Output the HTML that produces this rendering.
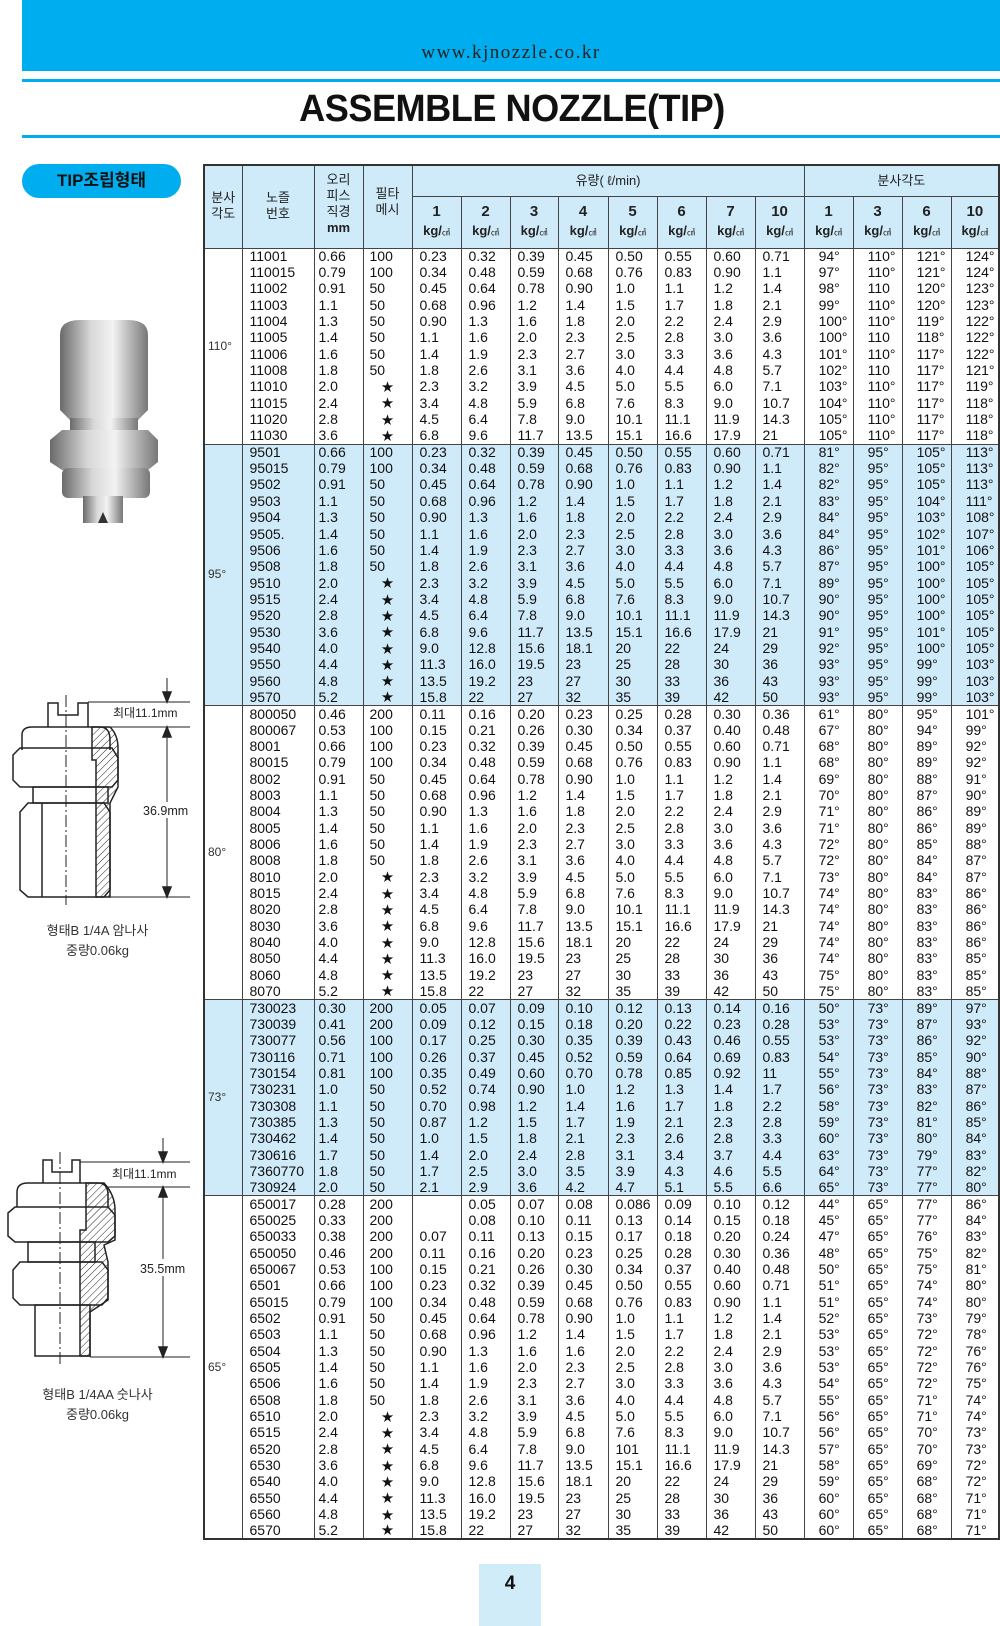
<!DOCTYPE html>
<html><head><meta charset="utf-8">
<style>
*{margin:0;padding:0;box-sizing:border-box}
html,body{width:1000px;height:1626px;background:#fff;overflow:hidden;position:relative;font-family:"Liberation Sans","Noto Sans CJK KR",sans-serif;color:#111}
.ban{position:absolute;left:22px;top:0;width:978px;height:71px;background:#00aeef}
.url{position:absolute;left:22px;width:978px;top:42px;text-align:center;font-family:"Liberation Serif",serif;font-size:19px;letter-spacing:1.5px;color:#222}
.ln{position:absolute;left:22px;width:978px;height:3px;background:#00aeef}
.title{position:absolute;left:0;width:1024px;top:88px;text-align:center;font-weight:bold;font-size:38px;letter-spacing:-0.5px;color:#111;transform:scaleX(0.95);transform-origin:512px 0}
.pill{position:absolute;left:22px;top:164px;width:159px;height:34px;border-radius:17px;background:#00aeef;font-weight:bold;font-size:17px;text-align:center;line-height:34px;color:#111}
table{position:absolute;left:203px;top:164px;width:795px;border-collapse:collapse;table-layout:fixed;font-size:14px}
table{border:2px solid #333}
td,th{border-left:1px solid #444;border-right:1px solid #444;padding:0;white-space:nowrap;overflow:hidden}
thead th{background:#cfeaf8;font-weight:normal;font-size:13px;line-height:16px;color:#222;border:1px solid #444;vertical-align:middle}
thead .n{font-size:15px;font-weight:bold;line-height:20px}
thead .k{font-size:13px;font-weight:bold;line-height:18px}
thead .k small{font-size:8px;font-weight:normal}
tbody tr{height:16.35px}
tbody td{line-height:15px;padding-left:7px;text-align:left;vertical-align:middle}
tbody tr:first-child td{border-top:1px solid #444}
tbody td:nth-last-child(-n+4){padding-left:14px}
tbody td:nth-last-child(14){padding-left:4px}
tbody td:nth-last-child(13){padding-left:6px}
tbody td.s{padding-left:0;text-align:center;font-size:12px;vertical-align:bottom}
tbody td.a{font-size:12px;padding-left:3px;text-align:left;color:#333}
tbody.b td{background:#cfeaf8}
.pg{position:absolute;left:479px;top:1564px;width:62px;height:62px;background:#d0ecf9;text-align:center;font-weight:bold;font-size:19px;padding-top:9px}
.cap{position:absolute;left:20px;width:155px;text-align:center;font-size:13px;color:#333;line-height:20px}
svg{position:absolute}
</style></head><body>
<div class="ban"></div>
<div class="url">www.kjnozzle.co.kr</div>
<div class="ln" style="top:79px"></div>
<div class="title">ASSEMBLE NOZZLE(TIP)</div>
<div class="ln" style="top:135px"></div>
<div class="pill">TIP조립형태</div>

<svg style="left:40px;top:310px" width="130" height="220" viewBox="40 310 130 220">
<defs><linearGradient id="m" x1="0" x2="1"><stop offset="0" stop-color="#6a6a6a"/><stop offset="0.35" stop-color="#d8d8d8"/><stop offset="0.6" stop-color="#f2f2f2"/><stop offset="1" stop-color="#777"/></linearGradient></defs>
<path d="M60 335 Q60 320 80 320 L128 320 Q148 320 148 335 L148 410 L138 420 L70 420 L60 410Z" fill="url(#m)"/>
<rect x="70" y="418" width="68" height="14" fill="url(#m)"/>
<path d="M50 440 L62 430 L148 430 L158 440 L158 462 L148 470 L62 470 L50 462Z" fill="url(#m)"/>
<rect x="62" y="468" width="88" height="30" rx="6" fill="url(#m)"/>
<rect x="83" y="496" width="40" height="27" fill="url(#m)"/>
<path d="M98 523 L103 512 L108 523Z" fill="#333"/>
</svg>

<svg style="left:0;top:660px" width="200" height="250" viewBox="0 660 200 250" fill="none" stroke="#222" stroke-width="1.5">
<defs><pattern id="h" width="5" height="5" patternUnits="userSpaceOnUse" patternTransform="rotate(45)"><line x1="0" y1="0" x2="0" y2="5" stroke="#222" stroke-width="1"/></pattern></defs>
<path d="M48 727 L48 703 L58 703 L58 715 L78 715 L78 703 L88 703 L88 727"/>
<path d="M22 750 L22 735 Q22 727 32 727 L100 727 Q110 727 110 740 L110 750"/>
<path d="M13 755 L20 748 L112 748 L118 758 L118 780 L112 787 L20 787 L13 780Z"/>
<rect x="33" y="787" width="75" height="16"/>
<path d="M20 812 L28 803 L104 803 L110 812 L110 890 L104 897 L28 897 L20 890Z"/>
<line x1="42" y1="803" x2="42" y2="897"/>
<path d="M92 727 L110 727 Q118 735 118 748 L118 787 L110 803 L110 897 L96 897 L96 760 L92 760Z" fill="url(#h)"/>
<line x1="66" y1="695" x2="66" y2="905" stroke-dasharray="12 3 2 3" stroke-width="1"/>
<g stroke-width="1"><line x1="88" y1="702" x2="190" y2="702"/><line x1="110" y1="727" x2="190" y2="727"/><line x1="110" y1="897" x2="190" y2="897"/>
<line x1="167" y1="678" x2="167" y2="700"/><line x1="167" y1="729" x2="167" y2="895"/></g>
<path d="M163 692 L167 702 L171 692Z M163 737 L167 727 L171 737Z M163 887 L167 897 L171 887Z" fill="#222"/>
<rect x="142" y="802" width="48" height="16" fill="#fff" stroke="none"/>
<text x="113" y="717" font-size="12" fill="#222" stroke="none" font-family="Liberation Sans,Noto Sans CJK KR,sans-serif">최대11.1mm</text>
<text x="143" y="815" font-size="12.5" fill="#222" stroke="none" font-family="Liberation Sans,sans-serif">36.9mm</text>
</svg>
<div class="cap" style="top:921px">형태B 1/4A 암나사<br>중량0.06kg</div>

<svg style="left:0;top:1138px" width="200" height="230" viewBox="0 1138 200 230" fill="none" stroke="#222" stroke-width="1.5">
<path d="M43 1183 L43 1160 L52 1160 L52 1172 L72 1172 L72 1160 L80 1160 L80 1183"/>
<path d="M17 1207 L17 1192 Q17 1183 28 1183 L98 1183 Q108 1183 108 1195 L108 1207"/>
<path d="M8 1213 L15 1207 L108 1207 L115 1215 L115 1236 L108 1242 L15 1242 L8 1236Z"/>
<rect x="28" y="1242" width="67" height="20"/>
<path d="M13 1270 L20 1262 L102 1262 L108 1270 L108 1298 L102 1305 L20 1305 L13 1298Z"/>
<rect x="35" y="1305" width="55" height="51"/>
<path d="M86 1183 L104 1183 Q115 1195 115 1210 L115 1240 L104 1245 L108 1262 L108 1300 L90 1312 L90 1356 L80 1356 L80 1230 L86 1230Z" fill="url(#h)"/>
<line x1="60" y1="1152" x2="60" y2="1365" stroke-dasharray="12 3 2 3" stroke-width="1"/>
<g stroke-width="1"><line x1="80" y1="1162" x2="190" y2="1162"/><line x1="105" y1="1187" x2="190" y2="1187"/><line x1="90" y1="1357" x2="190" y2="1357"/>
<line x1="163" y1="1138" x2="163" y2="1160"/><line x1="163" y1="1189" x2="163" y2="1355"/></g>
<path d="M159 1152 L163 1162 L167 1152Z M159 1197 L163 1187 L167 1197Z M159 1347 L163 1357 L167 1347Z" fill="#222"/>
<rect x="139" y="1259" width="50" height="17" fill="#fff" stroke="none"/>
<text x="112" y="1178" font-size="12" fill="#222" stroke="none" font-family="Liberation Sans,Noto Sans CJK KR,sans-serif">최대11.1mm</text>
<text x="140" y="1273" font-size="12.5" fill="#222" stroke="none" font-family="Liberation Sans,sans-serif">35.5mm</text>
</svg>
<div class="cap" style="top:1385px">형태B 1/4AA 숫나사<br>중량0.06kg</div>

<table>
<colgroup><col style="width:38px"><col style="width:72px"><col style="width:49px"><col style="width:49px"><col style="width:49px"><col style="width:49px"><col style="width:48px"><col style="width:50px"><col style="width:49px"><col style="width:49px"><col style="width:49px"><col style="width:49px"><col style="width:49px"><col style="width:49px"><col style="width:49px"><col style="width:48px"></colgroup>
<thead>
<tr style="height:31px"><th rowspan="2" style="vertical-align:top;padding-top:24px">분사<br>각도</th><th rowspan="2" style="vertical-align:top;padding-top:24px">노즐<br>번호</th><th rowspan="2" style="vertical-align:top;padding-top:6px">오리<br>피스<br>직경<br><b>mm</b></th><th rowspan="2" style="vertical-align:top;padding-top:20px">필타<br>메시</th><th colspan="8">유량( ℓ/min)</th><th colspan="4">분사각도</th></tr>
<tr style="height:52px"><th><div class="n">1</div><div class="k">kg/<small>㎠</small></div></th><th><div class="n">2</div><div class="k">kg/<small>㎠</small></div></th><th><div class="n">3</div><div class="k">kg/<small>㎠</small></div></th><th><div class="n">4</div><div class="k">kg/<small>㎠</small></div></th><th><div class="n">5</div><div class="k">kg/<small>㎠</small></div></th><th><div class="n">6</div><div class="k">kg/<small>㎠</small></div></th><th><div class="n">7</div><div class="k">kg/<small>㎠</small></div></th><th><div class="n">10</div><div class="k">kg/<small>㎠</small></div></th><th><div class="n">1</div><div class="k">kg/<small>㎠</small></div></th><th><div class="n">3</div><div class="k">kg/<small>㎠</small></div></th><th><div class="n">6</div><div class="k">kg/<small>㎠</small></div></th><th><div class="n">10</div><div class="k">kg/<small>㎠</small></div></th></tr>
</thead>
<tbody>
<tr><td class="a" rowspan="12">110°</td><td>11001</td><td>0.66</td><td>100</td><td>0.23</td><td>0.32</td><td>0.39</td><td>0.45</td><td>0.50</td><td>0.55</td><td>0.60</td><td>0.71</td><td>94°</td><td>110°</td><td>121°</td><td>124°</td></tr>
<tr><td>110015</td><td>0.79</td><td>100</td><td>0.34</td><td>0.48</td><td>0.59</td><td>0.68</td><td>0.76</td><td>0.83</td><td>0.90</td><td>1.1</td><td>97°</td><td>110°</td><td>121°</td><td>124°</td></tr>
<tr><td>11002</td><td>0.91</td><td>50</td><td>0.45</td><td>0.64</td><td>0.78</td><td>0.90</td><td>1.0</td><td>1.1</td><td>1.2</td><td>1.4</td><td>98°</td><td>110</td><td>120°</td><td>123°</td></tr>
<tr><td>11003</td><td>1.1</td><td>50</td><td>0.68</td><td>0.96</td><td>1.2</td><td>1.4</td><td>1.5</td><td>1.7</td><td>1.8</td><td>2.1</td><td>99°</td><td>110°</td><td>120°</td><td>123°</td></tr>
<tr><td>11004</td><td>1.3</td><td>50</td><td>0.90</td><td>1.3</td><td>1.6</td><td>1.8</td><td>2.0</td><td>2.2</td><td>2.4</td><td>2.9</td><td>100°</td><td>110°</td><td>119°</td><td>122°</td></tr>
<tr><td>11005</td><td>1.4</td><td>50</td><td>1.1</td><td>1.6</td><td>2.0</td><td>2.3</td><td>2.5</td><td>2.8</td><td>3.0</td><td>3.6</td><td>100°</td><td>110</td><td>118°</td><td>122°</td></tr>
<tr><td>11006</td><td>1.6</td><td>50</td><td>1.4</td><td>1.9</td><td>2.3</td><td>2.7</td><td>3.0</td><td>3.3</td><td>3.6</td><td>4.3</td><td>101°</td><td>110°</td><td>117°</td><td>122°</td></tr>
<tr><td>11008</td><td>1.8</td><td>50</td><td>1.8</td><td>2.6</td><td>3.1</td><td>3.6</td><td>4.0</td><td>4.4</td><td>4.8</td><td>5.7</td><td>102°</td><td>110</td><td>117°</td><td>121°</td></tr>
<tr><td>11010</td><td>2.0</td><td class="s">★</td><td>2.3</td><td>3.2</td><td>3.9</td><td>4.5</td><td>5.0</td><td>5.5</td><td>6.0</td><td>7.1</td><td>103°</td><td>110°</td><td>117°</td><td>119°</td></tr>
<tr><td>11015</td><td>2.4</td><td class="s">★</td><td>3.4</td><td>4.8</td><td>5.9</td><td>6.8</td><td>7.6</td><td>8.3</td><td>9.0</td><td>10.7</td><td>104°</td><td>110°</td><td>117°</td><td>118°</td></tr>
<tr><td>11020</td><td>2.8</td><td class="s">★</td><td>4.5</td><td>6.4</td><td>7.8</td><td>9.0</td><td>10.1</td><td>11.1</td><td>11.9</td><td>14.3</td><td>105°</td><td>110°</td><td>117°</td><td>118°</td></tr>
<tr><td>11030</td><td>3.6</td><td class="s">★</td><td>6.8</td><td>9.6</td><td>11.7</td><td>13.5</td><td>15.1</td><td>16.6</td><td>17.9</td><td>21</td><td>105°</td><td>110°</td><td>117°</td><td>118°</td></tr>
</tbody>
<tbody class="b">
<tr><td class="a" rowspan="16">95°</td><td>9501</td><td>0.66</td><td>100</td><td>0.23</td><td>0.32</td><td>0.39</td><td>0.45</td><td>0.50</td><td>0.55</td><td>0.60</td><td>0.71</td><td>81°</td><td>95°</td><td>105°</td><td>113°</td></tr>
<tr><td>95015</td><td>0.79</td><td>100</td><td>0.34</td><td>0.48</td><td>0.59</td><td>0.68</td><td>0.76</td><td>0.83</td><td>0.90</td><td>1.1</td><td>82°</td><td>95°</td><td>105°</td><td>113°</td></tr>
<tr><td>9502</td><td>0.91</td><td>50</td><td>0.45</td><td>0.64</td><td>0.78</td><td>0.90</td><td>1.0</td><td>1.1</td><td>1.2</td><td>1.4</td><td>82°</td><td>95°</td><td>105°</td><td>113°</td></tr>
<tr><td>9503</td><td>1.1</td><td>50</td><td>0.68</td><td>0.96</td><td>1.2</td><td>1.4</td><td>1.5</td><td>1.7</td><td>1.8</td><td>2.1</td><td>83°</td><td>95°</td><td>104°</td><td>111°</td></tr>
<tr><td>9504</td><td>1.3</td><td>50</td><td>0.90</td><td>1.3</td><td>1.6</td><td>1.8</td><td>2.0</td><td>2.2</td><td>2.4</td><td>2.9</td><td>84°</td><td>95°</td><td>103°</td><td>108°</td></tr>
<tr><td>9505.</td><td>1.4</td><td>50</td><td>1.1</td><td>1.6</td><td>2.0</td><td>2.3</td><td>2.5</td><td>2.8</td><td>3.0</td><td>3.6</td><td>84°</td><td>95°</td><td>102°</td><td>107°</td></tr>
<tr><td>9506</td><td>1.6</td><td>50</td><td>1.4</td><td>1.9</td><td>2.3</td><td>2.7</td><td>3.0</td><td>3.3</td><td>3.6</td><td>4.3</td><td>86°</td><td>95°</td><td>101°</td><td>106°</td></tr>
<tr><td>9508</td><td>1.8</td><td>50</td><td>1.8</td><td>2.6</td><td>3.1</td><td>3.6</td><td>4.0</td><td>4.4</td><td>4.8</td><td>5.7</td><td>87°</td><td>95°</td><td>100°</td><td>105°</td></tr>
<tr><td>9510</td><td>2.0</td><td class="s">★</td><td>2.3</td><td>3.2</td><td>3.9</td><td>4.5</td><td>5.0</td><td>5.5</td><td>6.0</td><td>7.1</td><td>89°</td><td>95°</td><td>100°</td><td>105°</td></tr>
<tr><td>9515</td><td>2.4</td><td class="s">★</td><td>3.4</td><td>4.8</td><td>5.9</td><td>6.8</td><td>7.6</td><td>8.3</td><td>9.0</td><td>10.7</td><td>90°</td><td>95°</td><td>100°</td><td>105°</td></tr>
<tr><td>9520</td><td>2.8</td><td class="s">★</td><td>4.5</td><td>6.4</td><td>7.8</td><td>9.0</td><td>10.1</td><td>11.1</td><td>11.9</td><td>14.3</td><td>90°</td><td>95°</td><td>100°</td><td>105°</td></tr>
<tr><td>9530</td><td>3.6</td><td class="s">★</td><td>6.8</td><td>9.6</td><td>11.7</td><td>13.5</td><td>15.1</td><td>16.6</td><td>17.9</td><td>21</td><td>91°</td><td>95°</td><td>101°</td><td>105°</td></tr>
<tr><td>9540</td><td>4.0</td><td class="s">★</td><td>9.0</td><td>12.8</td><td>15.6</td><td>18.1</td><td>20</td><td>22</td><td>24</td><td>29</td><td>92°</td><td>95°</td><td>100°</td><td>105°</td></tr>
<tr><td>9550</td><td>4.4</td><td class="s">★</td><td>11.3</td><td>16.0</td><td>19.5</td><td>23</td><td>25</td><td>28</td><td>30</td><td>36</td><td>93°</td><td>95°</td><td>99°</td><td>103°</td></tr>
<tr><td>9560</td><td>4.8</td><td class="s">★</td><td>13.5</td><td>19.2</td><td>23</td><td>27</td><td>30</td><td>33</td><td>36</td><td>43</td><td>93°</td><td>95°</td><td>99°</td><td>103°</td></tr>
<tr><td>9570</td><td>5.2</td><td class="s">★</td><td>15.8</td><td>22</td><td>27</td><td>32</td><td>35</td><td>39</td><td>42</td><td>50</td><td>93°</td><td>95°</td><td>99°</td><td>103°</td></tr>
</tbody>
<tbody>
<tr><td class="a" rowspan="18">80°</td><td>800050</td><td>0.46</td><td>200</td><td>0.11</td><td>0.16</td><td>0.20</td><td>0.23</td><td>0.25</td><td>0.28</td><td>0.30</td><td>0.36</td><td>61°</td><td>80°</td><td>95°</td><td>101°</td></tr>
<tr><td>800067</td><td>0.53</td><td>100</td><td>0.15</td><td>0.21</td><td>0.26</td><td>0.30</td><td>0.34</td><td>0.37</td><td>0.40</td><td>0.48</td><td>67°</td><td>80°</td><td>94°</td><td>99°</td></tr>
<tr><td>8001</td><td>0.66</td><td>100</td><td>0.23</td><td>0.32</td><td>0.39</td><td>0.45</td><td>0.50</td><td>0.55</td><td>0.60</td><td>0.71</td><td>68°</td><td>80°</td><td>89°</td><td>92°</td></tr>
<tr><td>80015</td><td>0.79</td><td>100</td><td>0.34</td><td>0.48</td><td>0.59</td><td>0.68</td><td>0.76</td><td>0.83</td><td>0.90</td><td>1.1</td><td>68°</td><td>80°</td><td>89°</td><td>92°</td></tr>
<tr><td>8002</td><td>0.91</td><td>50</td><td>0.45</td><td>0.64</td><td>0.78</td><td>0.90</td><td>1.0</td><td>1.1</td><td>1.2</td><td>1.4</td><td>69°</td><td>80°</td><td>88°</td><td>91°</td></tr>
<tr><td>8003</td><td>1.1</td><td>50</td><td>0.68</td><td>0.96</td><td>1.2</td><td>1.4</td><td>1.5</td><td>1.7</td><td>1.8</td><td>2.1</td><td>70°</td><td>80°</td><td>87°</td><td>90°</td></tr>
<tr><td>8004</td><td>1.3</td><td>50</td><td>0.90</td><td>1.3</td><td>1.6</td><td>1.8</td><td>2.0</td><td>2.2</td><td>2.4</td><td>2.9</td><td>71°</td><td>80°</td><td>86°</td><td>89°</td></tr>
<tr><td>8005</td><td>1.4</td><td>50</td><td>1.1</td><td>1.6</td><td>2.0</td><td>2.3</td><td>2.5</td><td>2.8</td><td>3.0</td><td>3.6</td><td>71°</td><td>80°</td><td>86°</td><td>89°</td></tr>
<tr><td>8006</td><td>1.6</td><td>50</td><td>1.4</td><td>1.9</td><td>2.3</td><td>2.7</td><td>3.0</td><td>3.3</td><td>3.6</td><td>4.3</td><td>72°</td><td>80°</td><td>85°</td><td>88°</td></tr>
<tr><td>8008</td><td>1.8</td><td>50</td><td>1.8</td><td>2.6</td><td>3.1</td><td>3.6</td><td>4.0</td><td>4.4</td><td>4.8</td><td>5.7</td><td>72°</td><td>80°</td><td>84°</td><td>87°</td></tr>
<tr><td>8010</td><td>2.0</td><td class="s">★</td><td>2.3</td><td>3.2</td><td>3.9</td><td>4.5</td><td>5.0</td><td>5.5</td><td>6.0</td><td>7.1</td><td>73°</td><td>80°</td><td>84°</td><td>87°</td></tr>
<tr><td>8015</td><td>2.4</td><td class="s">★</td><td>3.4</td><td>4.8</td><td>5.9</td><td>6.8</td><td>7.6</td><td>8.3</td><td>9.0</td><td>10.7</td><td>74°</td><td>80°</td><td>83°</td><td>86°</td></tr>
<tr><td>8020</td><td>2.8</td><td class="s">★</td><td>4.5</td><td>6.4</td><td>7.8</td><td>9.0</td><td>10.1</td><td>11.1</td><td>11.9</td><td>14.3</td><td>74°</td><td>80°</td><td>83°</td><td>86°</td></tr>
<tr><td>8030</td><td>3.6</td><td class="s">★</td><td>6.8</td><td>9.6</td><td>11.7</td><td>13.5</td><td>15.1</td><td>16.6</td><td>17.9</td><td>21</td><td>74°</td><td>80°</td><td>83°</td><td>86°</td></tr>
<tr><td>8040</td><td>4.0</td><td class="s">★</td><td>9.0</td><td>12.8</td><td>15.6</td><td>18.1</td><td>20</td><td>22</td><td>24</td><td>29</td><td>74°</td><td>80°</td><td>83°</td><td>86°</td></tr>
<tr><td>8050</td><td>4.4</td><td class="s">★</td><td>11.3</td><td>16.0</td><td>19.5</td><td>23</td><td>25</td><td>28</td><td>30</td><td>36</td><td>74°</td><td>80°</td><td>83°</td><td>85°</td></tr>
<tr><td>8060</td><td>4.8</td><td class="s">★</td><td>13.5</td><td>19.2</td><td>23</td><td>27</td><td>30</td><td>33</td><td>36</td><td>43</td><td>75°</td><td>80°</td><td>83°</td><td>85°</td></tr>
<tr><td>8070</td><td>5.2</td><td class="s">★</td><td>15.8</td><td>22</td><td>27</td><td>32</td><td>35</td><td>39</td><td>42</td><td>50</td><td>75°</td><td>80°</td><td>83°</td><td>85°</td></tr>
</tbody>
<tbody class="b">
<tr><td class="a" rowspan="12">73°</td><td>730023</td><td>0.30</td><td>200</td><td>0.05</td><td>0.07</td><td>0.09</td><td>0.10</td><td>0.12</td><td>0.13</td><td>0.14</td><td>0.16</td><td>50°</td><td>73°</td><td>89°</td><td>97°</td></tr>
<tr><td>730039</td><td>0.41</td><td>200</td><td>0.09</td><td>0.12</td><td>0.15</td><td>0.18</td><td>0.20</td><td>0.22</td><td>0.23</td><td>0.28</td><td>53°</td><td>73°</td><td>87°</td><td>93°</td></tr>
<tr><td>730077</td><td>0.56</td><td>100</td><td>0.17</td><td>0.25</td><td>0.30</td><td>0.35</td><td>0.39</td><td>0.43</td><td>0.46</td><td>0.55</td><td>53°</td><td>73°</td><td>86°</td><td>92°</td></tr>
<tr><td>730116</td><td>0.71</td><td>100</td><td>0.26</td><td>0.37</td><td>0.45</td><td>0.52</td><td>0.59</td><td>0.64</td><td>0.69</td><td>0.83</td><td>54°</td><td>73°</td><td>85°</td><td>90°</td></tr>
<tr><td>730154</td><td>0.81</td><td>100</td><td>0.35</td><td>0.49</td><td>0.60</td><td>0.70</td><td>0.78</td><td>0.85</td><td>0.92</td><td>11</td><td>55°</td><td>73°</td><td>84°</td><td>88°</td></tr>
<tr><td>730231</td><td>1.0</td><td>50</td><td>0.52</td><td>0.74</td><td>0.90</td><td>1.0</td><td>1.2</td><td>1.3</td><td>1.4</td><td>1.7</td><td>56°</td><td>73°</td><td>83°</td><td>87°</td></tr>
<tr><td>730308</td><td>1.1</td><td>50</td><td>0.70</td><td>0.98</td><td>1.2</td><td>1.4</td><td>1.6</td><td>1.7</td><td>1.8</td><td>2.2</td><td>58°</td><td>73°</td><td>82°</td><td>86°</td></tr>
<tr><td>730385</td><td>1.3</td><td>50</td><td>0.87</td><td>1.2</td><td>1.5</td><td>1.7</td><td>1.9</td><td>2.1</td><td>2.3</td><td>2.8</td><td>59°</td><td>73°</td><td>81°</td><td>85°</td></tr>
<tr><td>730462</td><td>1.4</td><td>50</td><td>1.0</td><td>1.5</td><td>1.8</td><td>2.1</td><td>2.3</td><td>2.6</td><td>2.8</td><td>3.3</td><td>60°</td><td>73°</td><td>80°</td><td>84°</td></tr>
<tr><td>730616</td><td>1.7</td><td>50</td><td>1.4</td><td>2.0</td><td>2.4</td><td>2.8</td><td>3.1</td><td>3.4</td><td>3.7</td><td>4.4</td><td>63°</td><td>73°</td><td>79°</td><td>83°</td></tr>
<tr><td>7360770</td><td>1.8</td><td>50</td><td>1.7</td><td>2.5</td><td>3.0</td><td>3.5</td><td>3.9</td><td>4.3</td><td>4.6</td><td>5.5</td><td>64°</td><td>73°</td><td>77°</td><td>82°</td></tr>
<tr><td>730924</td><td>2.0</td><td>50</td><td>2.1</td><td>2.9</td><td>3.6</td><td>4.2</td><td>4.7</td><td>5.1</td><td>5.5</td><td>6.6</td><td>65°</td><td>73°</td><td>77°</td><td>80°</td></tr>
</tbody>
<tbody>
<tr><td class="a" rowspan="21">65°</td><td>650017</td><td>0.28</td><td>200</td><td></td><td>0.05</td><td>0.07</td><td>0.08</td><td>0.086</td><td>0.09</td><td>0.10</td><td>0.12</td><td>44°</td><td>65°</td><td>77°</td><td>86°</td></tr>
<tr><td>650025</td><td>0.33</td><td>200</td><td></td><td>0.08</td><td>0.10</td><td>0.11</td><td>0.13</td><td>0.14</td><td>0.15</td><td>0.18</td><td>45°</td><td>65°</td><td>77°</td><td>84°</td></tr>
<tr><td>650033</td><td>0.38</td><td>200</td><td>0.07</td><td>0.11</td><td>0.13</td><td>0.15</td><td>0.17</td><td>0.18</td><td>0.20</td><td>0.24</td><td>47°</td><td>65°</td><td>76°</td><td>83°</td></tr>
<tr><td>650050</td><td>0.46</td><td>200</td><td>0.11</td><td>0.16</td><td>0.20</td><td>0.23</td><td>0.25</td><td>0.28</td><td>0.30</td><td>0.36</td><td>48°</td><td>65°</td><td>75°</td><td>82°</td></tr>
<tr><td>650067</td><td>0.53</td><td>100</td><td>0.15</td><td>0.21</td><td>0.26</td><td>0.30</td><td>0.34</td><td>0.37</td><td>0.40</td><td>0.48</td><td>50°</td><td>65°</td><td>75°</td><td>81°</td></tr>
<tr><td>6501</td><td>0.66</td><td>100</td><td>0.23</td><td>0.32</td><td>0.39</td><td>0.45</td><td>0.50</td><td>0.55</td><td>0.60</td><td>0.71</td><td>51°</td><td>65°</td><td>74°</td><td>80°</td></tr>
<tr><td>65015</td><td>0.79</td><td>100</td><td>0.34</td><td>0.48</td><td>0.59</td><td>0.68</td><td>0.76</td><td>0.83</td><td>0.90</td><td>1.1</td><td>51°</td><td>65°</td><td>74°</td><td>80°</td></tr>
<tr><td>6502</td><td>0.91</td><td>50</td><td>0.45</td><td>0.64</td><td>0.78</td><td>0.90</td><td>1.0</td><td>1.1</td><td>1.2</td><td>1.4</td><td>52°</td><td>65°</td><td>73°</td><td>79°</td></tr>
<tr><td>6503</td><td>1.1</td><td>50</td><td>0.68</td><td>0.96</td><td>1.2</td><td>1.4</td><td>1.5</td><td>1.7</td><td>1.8</td><td>2.1</td><td>53°</td><td>65°</td><td>72°</td><td>78°</td></tr>
<tr><td>6504</td><td>1.3</td><td>50</td><td>0.90</td><td>1.3</td><td>1.6</td><td>1.6</td><td>2.0</td><td>2.2</td><td>2.4</td><td>2.9</td><td>53°</td><td>65°</td><td>72°</td><td>76°</td></tr>
<tr><td>6505</td><td>1.4</td><td>50</td><td>1.1</td><td>1.6</td><td>2.0</td><td>2.3</td><td>2.5</td><td>2.8</td><td>3.0</td><td>3.6</td><td>53°</td><td>65°</td><td>72°</td><td>76°</td></tr>
<tr><td>6506</td><td>1.6</td><td>50</td><td>1.4</td><td>1.9</td><td>2.3</td><td>2.7</td><td>3.0</td><td>3.3</td><td>3.6</td><td>4.3</td><td>54°</td><td>65°</td><td>72°</td><td>75°</td></tr>
<tr><td>6508</td><td>1.8</td><td>50</td><td>1.8</td><td>2.6</td><td>3.1</td><td>3.6</td><td>4.0</td><td>4.4</td><td>4.8</td><td>5.7</td><td>55°</td><td>65°</td><td>71°</td><td>74°</td></tr>
<tr><td>6510</td><td>2.0</td><td class="s">★</td><td>2.3</td><td>3.2</td><td>3.9</td><td>4.5</td><td>5.0</td><td>5.5</td><td>6.0</td><td>7.1</td><td>56°</td><td>65°</td><td>71°</td><td>74°</td></tr>
<tr><td>6515</td><td>2.4</td><td class="s">★</td><td>3.4</td><td>4.8</td><td>5.9</td><td>6.8</td><td>7.6</td><td>8.3</td><td>9.0</td><td>10.7</td><td>56°</td><td>65°</td><td>70°</td><td>73°</td></tr>
<tr><td>6520</td><td>2.8</td><td class="s">★</td><td>4.5</td><td>6.4</td><td>7.8</td><td>9.0</td><td>101</td><td>11.1</td><td>11.9</td><td>14.3</td><td>57°</td><td>65°</td><td>70°</td><td>73°</td></tr>
<tr><td>6530</td><td>3.6</td><td class="s">★</td><td>6.8</td><td>9.6</td><td>11.7</td><td>13.5</td><td>15.1</td><td>16.6</td><td>17.9</td><td>21</td><td>58°</td><td>65°</td><td>69°</td><td>72°</td></tr>
<tr><td>6540</td><td>4.0</td><td class="s">★</td><td>9.0</td><td>12.8</td><td>15.6</td><td>18.1</td><td>20</td><td>22</td><td>24</td><td>29</td><td>59°</td><td>65°</td><td>68°</td><td>72°</td></tr>
<tr><td>6550</td><td>4.4</td><td class="s">★</td><td>11.3</td><td>16.0</td><td>19.5</td><td>23</td><td>25</td><td>28</td><td>30</td><td>36</td><td>60°</td><td>65°</td><td>68°</td><td>71°</td></tr>
<tr><td>6560</td><td>4.8</td><td class="s">★</td><td>13.5</td><td>19.2</td><td>23</td><td>27</td><td>30</td><td>33</td><td>36</td><td>43</td><td>60°</td><td>65°</td><td>68°</td><td>71°</td></tr>
<tr><td>6570</td><td>5.2</td><td class="s">★</td><td>15.8</td><td>22</td><td>27</td><td>32</td><td>35</td><td>39</td><td>42</td><td>50</td><td>60°</td><td>65°</td><td>68°</td><td>71°</td></tr>
</tbody>
</table>
<div class="pg">4</div>
</body></html>
